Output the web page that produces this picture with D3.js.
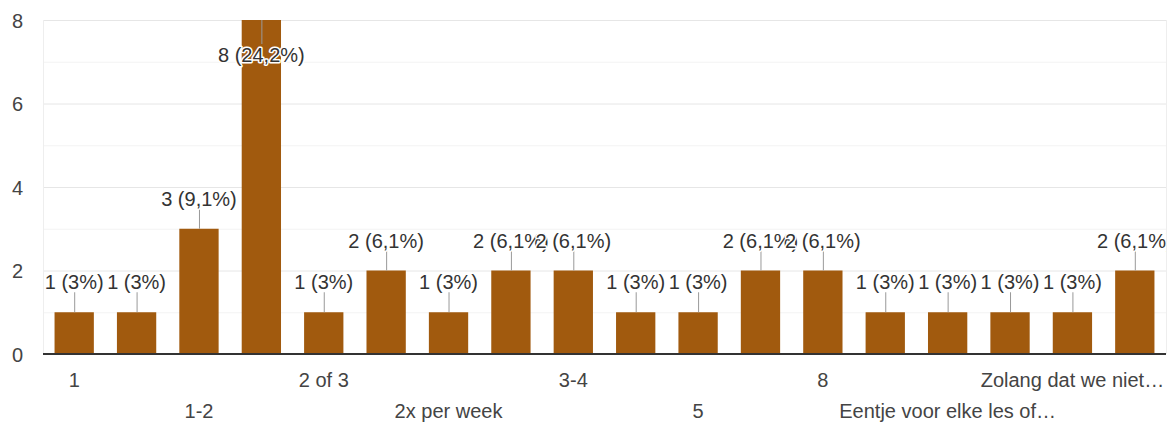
<!DOCTYPE html>
<html>
<head>
<meta charset="utf-8">
<script src="https://cdn.jsdelivr.net/npm/d3@7/dist/d3.min.js"></script>
<style>
  html, body { margin: 0; padding: 0; background: #fff; }
  svg { display: block; font-family: "Liberation Sans", Arial, sans-serif; }
</style>
</head>
<body>
<svg id="chart" width="1175" height="425"></svg>
<script>
// Answers per option (only every other category label fits on the axis)
const categories = ["1", "", "1-2", "", "2 of 3", "", "2x per week", "", "3-4", "",
                    "5", "", "8", "", "Eentje voor elke les of\u2026", "", "Zolang dat we niet\u2026", ""];
const counts = [1, 1, 3, 8, 1, 2, 1, 2, 2, 1, 1, 2, 2, 1, 1, 1, 1, 2];
const yTicks = [0, 2, 4, 6, 8];

const W = 1175, H = 425;
const plot = { left: 43, right: 1166, top: 20, bottom: 354 };
const barColor = "#a15a0e";
const font = "'Liberation Sans', Arial, sans-serif";

const total = d3.sum(counts);
const pct = v => {
  const s = d3.format(".1f")(v / total * 100).replace(/\.0$/, "").replace(".", ",");
  return s + "%";
};

const svg = d3.select("#chart");

const x = d3.scaleBand()
  .domain(d3.range(counts.length))
  .range([plot.left, plot.right])
  .paddingInner(0.37)
  .paddingOuter(0.185);

const y = d3.scaleLinear().domain([0, 8]).range([plot.bottom, plot.top]);

// Gridlines: even values stronger, odd values faint
svg.append("g")
  .selectAll("line")
  .data(d3.range(1, 9))
  .join("line")
  .attr("x1", plot.left).attr("x2", plot.right)
  .attr("y1", d => y(d) + 0.5).attr("y2", d => y(d) + 0.5)
  .attr("stroke", d => d % 2 === 0 ? "#e6e6e6" : "#f3f3f3")
  .attr("stroke-width", 1);

// Frame sides
svg.append("g").selectAll("line")
  .data([plot.left, plot.right])
  .join("line")
  .attr("x1", d => d + 0.5).attr("x2", d => d + 0.5)
  .attr("y1", plot.top).attr("y2", plot.bottom)
  .attr("stroke", "#eeeeee");

// Y axis labels
const yAxis = d3.axisLeft(y).tickValues(yTicks).tickSize(0).tickPadding(0);
const gy = svg.append("g")
  .attr("transform", `translate(${plot.left - 20},0)`)
  .call(yAxis);
gy.select(".domain").remove();
gy.selectAll("text")
  .attr("font-size", 20)
  .attr("font-family", font)
  .attr("fill", "#444")
  .attr("dy", "0.35em");

// Bars
svg.append("g")
  .selectAll("rect")
  .data(counts)
  .join("rect")
  .attr("x", (d, i) => x(i))
  .attr("width", x.bandwidth())
  .attr("y", d => y(d))
  .attr("height", d => y(0) - y(d))
  .attr("fill", barColor);

// Baseline
svg.append("line")
  .attr("x1", plot.left).attr("x2", plot.right)
  .attr("y1", plot.bottom).attr("y2", plot.bottom)
  .attr("stroke", "#333").attr("stroke-width", 2);

// X axis labels, staggered over two rows
const xAxis = d3.axisBottom(x)
  .tickValues(d3.range(0, counts.length, 2))
  .tickFormat(i => categories[i])
  .tickSize(0).tickPadding(0);
const gx = svg.append("g")
  .attr("transform", `translate(0,${plot.bottom})`)
  .call(xAxis);
gx.select(".domain").remove();
gx.selectAll("text")
  .attr("font-size", 20)
  .attr("font-family", font)
  .attr("fill", "#444")
  .attr("dy", null)
  .attr("y", i => (i / 2) % 2 === 0 ? 33 : 64);

// Value annotations with stems, clipped to the plot width
svg.append("clipPath").attr("id", "plotClip")
  .append("rect").attr("x", 0).attr("y", 0).attr("width", plot.right).attr("height", H);

const ann = svg.append("g").attr("clip-path", "url(#plotClip)")
  .selectAll("g")
  .data(counts.map((v, i) => ({ v, i })))
  .join("g");

const inside = d => y(d.v) - 45 < 0;

ann.append("line")
  .attr("x1", d => x(d.i) + x.bandwidth() / 2 + 0.5)
  .attr("x2", d => x(d.i) + x.bandwidth() / 2 + 0.5)
  .attr("y1", d => y(d.v))
  .attr("y2", d => inside(d) ? y(d.v) + 24 : y(d.v) - 20)
  .attr("stroke", "#999").attr("stroke-width", 1);

ann.append("text")
  .attr("x", d => x(d.i) + x.bandwidth() / 2)
  .attr("y", d => inside(d) ? y(d.v) + 42 : y(d.v) - 23)
  .attr("text-anchor", "middle")
  .attr("font-size", 20)
  .attr("font-family", font)
  .attr("fill", "#333")
  .attr("stroke", "#fff")
  .attr("stroke-width", 3)
  .attr("stroke-linejoin", "round")
  .attr("paint-order", "stroke")
  .text(d => `${d.v} (${pct(d.v)})`);
</script>
</body>
</html>
